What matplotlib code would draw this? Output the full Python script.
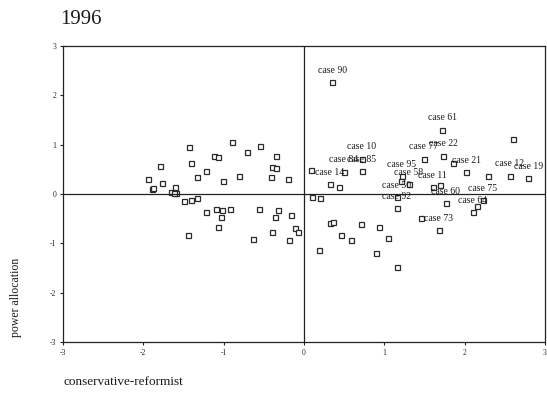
import matplotlib
matplotlib.use("Agg")
import matplotlib.pyplot as plt

plt.rcParams['font.family'] = ['Liberation Serif', 'DejaVu Serif']

title = "1996"
x_label = "conservative-reformist"
y_label = "power allocation"
x_ticks = [-3, -2, -1, 0, 1, 2, 3]
y_ticks = [-3, -2, -1, 0, 1, 2, 3]

# left (conservative) cluster - unlabeled cases
left_x = [-1.432, -0.900, -0.548, -0.704, -1.117, -1.068, -0.349, -1.791, -1.411, -1.223,
          -0.399, -0.349, -1.943, -1.333, -0.809, -1.011, -0.411, -0.196, -1.772, -1.889,
          -1.875, -1.606, -1.650, -1.588, -1.620, -1.488, -1.411, -1.330, -1.223, -1.098,
          -1.015, -0.925, -1.037, -1.071, -1.442, -0.564, -0.320, -0.365, -0.166, -0.106,
          -0.075, -0.396, -0.629, -0.184]
left_y = [0.962, 1.063, 0.968, 0.850, 0.779, 0.759, 0.765, 0.571, 0.623, 0.476,
          0.547, 0.526, 0.310, 0.348, 0.368, 0.273, 0.354, 0.310, 0.227, 0.101,
          0.120, 0.152, 0.045, 0.016, 0.030, -0.146, -0.121, -0.077, -0.358, -0.314,
          -0.334, -0.314, -0.470, -0.672, -0.826, -0.294, -0.334, -0.466, -0.425, -0.684,
          -0.773, -0.779, -0.907, -0.931]

# right (reformist) cluster
right_x = [0.352, 1.721, 2.603, 1.488, 1.731, 1.849, 2.017, 2.285, 2.559, 2.790,
           0.081, 0.498, 0.722, 0.722, 0.324, 0.432, 1.214, 1.202, 1.301, 1.158,
           1.154, 1.600, 1.694, 0.096, 0.202, 1.766, 2.225, 2.154, 2.098, 1.457,
           1.675, 0.324, 0.367, 0.706, 0.938, 0.461, 0.582, 1.040, 0.184, 0.897,
           1.152]
right_y = [2.263, 1.302, 1.109, 0.713, 0.779, 0.632, 0.445, 0.360, 0.374, 0.320,
           0.486, 0.455, 0.466, 0.719, 0.198, 0.146, 0.364, 0.273, 0.202, -0.061,
           -0.283, 0.142, 0.178, -0.061, -0.085, -0.192, -0.126, -0.253, -0.374, -0.482,
           -0.733, -0.583, -0.571, -0.617, -0.662, -0.834, -0.937, -0.895, -1.138, -1.204,
           -1.478]
right_labels = ["case 90", "case 61", "", "case 77", "case 22", "", "case 21", "", "case 12", "case 19",
                "", "case 84", "case 85", "case 10", "case 14", "", "case 95", "", "case 58", "case 50",
                "case 92", "case 11", "", "", "", "case 60", "case 75", "", "case 64", "",
                "case 73", "", "", "", "", "", "", "", "", "",
                ""]

fig = plt.figure(figsize=(5.47, 4.01), dpi=100)
ax = fig.add_axes([63 / 547, 1 - 342 / 401, (545 - 63) / 547, (342 - 46) / 401])

all_x = left_x + right_x
all_y = left_y + right_y
ax.plot(all_x, all_y, linestyle='none', marker='s', markersize=3.6,
        markerfacecolor='white', markeredgecolor='#2a2a2a', markeredgewidth=0.9)

for xv, yv, lab in zip(right_x, right_y, right_labels):
    if lab:
        ax.annotate(lab, (xv, yv), xytext=(0, 8.6), textcoords='offset points',
                    ha='center', va='center', fontsize=7, color='#1a1a1a')

ax.axhline(0, color='#222222', lw=0.9)
ax.axvline(0, color='#222222', lw=0.9)

ax.set_xlim(-3, 3)
ax.set_ylim(-3, 3)
ax.set_xticks(x_ticks)
ax.set_yticks(y_ticks)
ax.set_xticklabels([str(t) for t in x_ticks], fontsize=5.5)
ax.set_yticklabels([str(t) for t in y_ticks], fontsize=5.5)
ax.tick_params(direction='out', length=2, width=0.8, pad=3, colors='#222222')
for s in ax.spines.values():
    s.set_linewidth(0.9)
    s.set_color('#222222')

fig.text(60 / 547, 1 - 20 / 401, title, fontsize=15, ha='left', va='center', color='#1a1a1a')
fig.text(63 / 547, 1 - 382 / 401, x_label, fontsize=9.5, ha='left', va='center', color='#1a1a1a')
fig.text(16 / 547, 1 - 297 / 401, y_label, fontsize=8.5, ha='center', va='center',
         rotation=90, color='#1a1a1a')

fig.savefig("out.png", dpi=100)
